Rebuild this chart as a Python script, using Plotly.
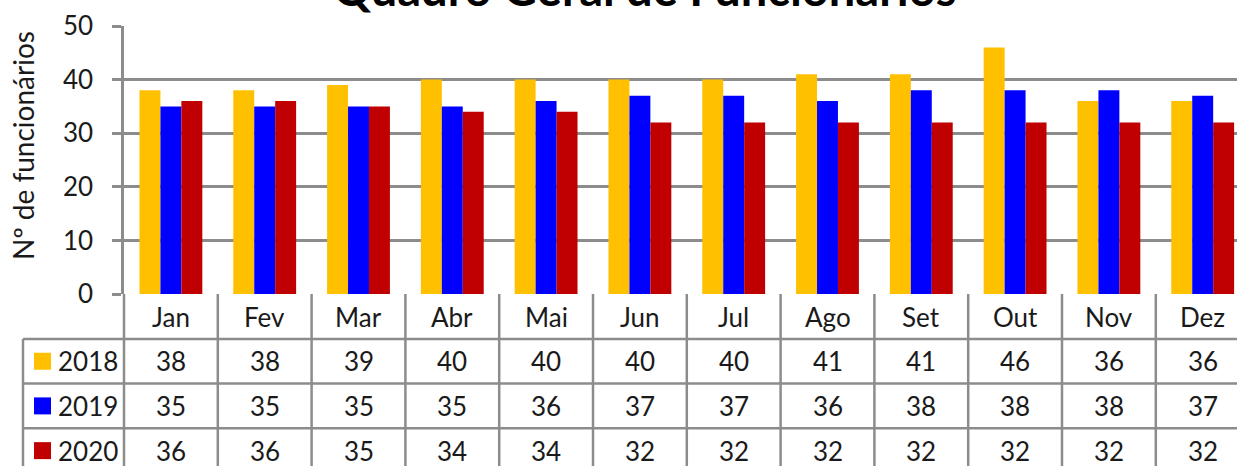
import plotly.graph_objects as go

# ---- data ----
months = ["Jan", "Fev", "Mar", "Abr", "Mai", "Jun", "Jul", "Ago", "Set", "Out", "Nov", "Dez"]
series_names = ["2018", "2019", "2020"]
v2018 = [38, 38, 39, 40, 40, 40, 40, 41, 41, 46, 36, 36]
v2019 = [35, 35, 35, 35, 36, 37, 37, 36, 38, 38, 38, 37]
v2020 = [36, 36, 35, 34, 34, 32, 32, 32, 32, 32, 32, 32]
colors = ["#FFC000", "#0000FF", "#C00000"]
title_text = "Quadro Geral de Funcionários"
ytitle_text = "Nº de funcionários"
y_ticks = [0, 10, 20, 30, 40, 50]

series_values = [v2018, v2019, v2020]

# ---- layout geometry (pixels) ----
W, H = 1237, 466
L, R, T, B = 124, 1237, 26, 294
unit = 93.8  # pixel width of a category
xmax = -0.5 + (R - L) / unit
row_edges = [294, 339, 383.5, 428.3, 473]
grid_col = "#8C8C8C"
txt_col = "#1a1a1a"
FONT = "Lato"
FS = 26


def px_x(p):
    return (p - L) / (R - L)


def px_y(p):
    return (B - p) / (B - T)


fig = go.Figure()
for name, vals, c in zip(series_names, series_values, colors):
    fig.add_trace(go.Bar(x=months, y=vals, name=name, marker=dict(color=c, line=dict(width=0))))

shapes = []
annotations = []

# table vertical lines at category boundaries
for i in range(len(months) + 1):
    xp = L + i * unit
    if xp > W:
        continue
    shapes.append(dict(type="line", xref="paper", yref="paper",
                       x0=px_x(xp), x1=px_x(xp), y0=px_y(row_edges[0]), y1=px_y(row_edges[-1]),
                       line=dict(color=grid_col, width=2.5)))
# left legend column border
shapes.append(dict(type="line", xref="paper", yref="paper",
                   x0=px_x(23), x1=px_x(23), y0=px_y(row_edges[1]), y1=px_y(row_edges[-1]),
                   line=dict(color=grid_col, width=2.5)))
# horizontal table lines
for ry in row_edges[1:-1]:
    shapes.append(dict(type="line", xref="paper", yref="paper",
                       x0=px_x(23), x1=1, y0=px_y(ry), y1=px_y(ry),
                       line=dict(color=grid_col, width=2.5)))

# header row (month names)
hdr_c = (row_edges[0] + row_edges[1]) / 2
for m in months:
    annotations.append(dict(x=m, xref="x", y=px_y(hdr_c), yref="paper", text=m, showarrow=False,
                            font=dict(family=FONT, size=FS, color=txt_col), xanchor="center", yanchor="middle"))

# data rows
for r, (name, vals, c) in enumerate(zip(series_names, series_values, colors)):
    cy = (row_edges[r + 1] + row_edges[r + 2]) / 2
    for m, v in zip(months, vals):
        annotations.append(dict(x=m, xref="x", y=px_y(cy), yref="paper", text=str(v), showarrow=False,
                                font=dict(family=FONT, size=FS, color=txt_col), xanchor="center", yanchor="middle"))
    shapes.append(dict(type="rect", xref="paper", yref="paper",
                       x0=px_x(34), x1=px_x(51), y0=px_y(cy + 8.5), y1=px_y(cy - 8.5),
                       fillcolor=c, line=dict(width=0)))
    annotations.append(dict(x=px_x(56), xref="paper", y=px_y(cy), yref="paper", text=name, showarrow=False,
                            font=dict(family=FONT, size=FS, color=txt_col), xanchor="left", yanchor="middle"))

# title (partially cut off at top, as in the reference)
annotations.append(dict(x=px_x(644), xref="paper", y=px_y(18), yref="paper", text="<b>" + title_text + "</b>",
                        showarrow=False, font=dict(family=FONT, size=47, color="#000000"),
                        xanchor="center", yanchor="bottom"))
# y-axis title
annotations.append(dict(x=px_x(23), xref="paper", y=px_y(146), yref="paper", text=ytitle_text,
                        showarrow=False, textangle=-90, font=dict(family=FONT, size=28, color=txt_col),
                        xanchor="center", yanchor="middle"))

fig.update_layout(
    width=W, height=H,
    margin=dict(l=L, r=W - R, t=T, b=H - B, pad=0),
    paper_bgcolor="white", plot_bgcolor="white",
    barmode="group", bargap=0.33, bargroupgap=0,
    showlegend=False,
    shapes=shapes, annotations=annotations,
    font=dict(family=FONT, color=txt_col),
)
fig.update_xaxes(type="category", range=[-0.5, xmax], showticklabels=False, showgrid=False,
                 zeroline=False, showline=False, ticks="")
fig.update_yaxes(range=[0, 50], tickvals=y_ticks, showgrid=True, gridcolor=grid_col, gridwidth=2.5,
                 zeroline=False, showline=True, linecolor=grid_col, linewidth=2.5,
                 ticks="outside", ticklen=9, tickwidth=2.5, tickcolor=grid_col,
                 tickfont=dict(family=FONT, size=FS, color=txt_col), ticklabelstandoff=14)

fig.write_html("out.html", config={"displayModeBar": False},
               post_script="document.body.style.margin='0px';document.body.style.overflow='hidden';")
